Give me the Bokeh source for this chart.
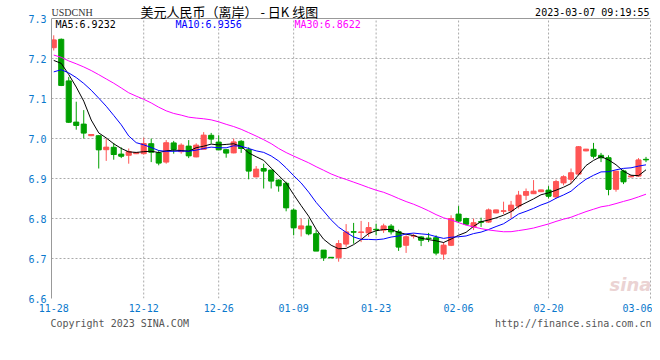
import numpy as np
from bokeh.plotting import figure
from bokeh.models import FixedTicker, Label, Span, ColumnDataSource, Range1d, LinearAxis
from bokeh.embed import file_html
from bokeh.resources import INLINE

# ---------------- data ----------------
tick_idx = [0, 12, 22, 32, 43, 54, 66, 78]
tick_labels = ["11-28", "12-12", "12-26", "01-09", "01-23", "02-06", "02-20", "03-06"]
y_ticks = [6.6, 6.7, 6.8, 6.9, 7.0, 7.1, 7.2, 7.3]

opens = [7.227, 7.248, 7.144, 7.041, 7.036, 7.007, 7.007, 6.972, 6.978, 6.961,
         6.958, 6.962, 6.962, 6.987, 6.964, 6.941, 6.989, 6.967, 6.981, 6.954,
         6.973, 7.008, 6.991, 6.972, 6.964, 6.993, 6.972, 6.904, 6.925, 6.921,
         6.896, 6.888, 6.821, 6.774, 6.781, 6.762, 6.721, 6.703, 6.702, 6.736,
         6.767, 6.765, 6.764, 6.773, 6.771, 6.781, 6.767, 6.733, 6.756, 6.754,
         6.751, 6.752, 6.711, 6.733, 6.811, 6.800, 6.779, 6.792, 6.791, 6.814,
         6.818, 6.819, 6.831, 6.858, 6.862, 6.867, 6.871, 6.854, 6.889, 6.898,
         6.911, 6.969, 6.973, 6.958, 6.952, 6.873, 6.919, 6.904, 6.906, 6.948]
highs = [7.258, 7.250, 7.154, 7.092, 7.071, 7.011, 7.008, 7.000, 6.989, 6.978,
         6.975, 6.966, 7.002, 7.000, 6.971, 6.996, 6.994, 6.988, 6.996, 6.988,
         7.016, 7.014, 7.008, 6.973, 7.000, 6.996, 6.978, 6.931, 6.937, 6.922,
         6.898, 6.892, 6.825, 6.800, 6.798, 6.771, 6.721, 6.703, 6.746, 6.786,
         6.789, 6.794, 6.791, 6.787, 6.787, 6.786, 6.772, 6.758, 6.762, 6.756,
         6.764, 6.758, 6.741, 6.808, 6.831, 6.802, 6.800, 6.802, 6.825, 6.822,
         6.842, 6.844, 6.869, 6.875, 6.896, 6.872, 6.881, 6.897, 6.908, 6.925,
         6.981, 6.974, 6.989, 6.964, 6.958, 6.918, 6.922, 6.907, 6.951, 6.954]
lows = [7.220, 7.131, 7.039, 7.022, 7.000, 7.006, 6.925, 6.944, 6.947, 6.951,
        6.937, 6.961, 6.960, 6.941, 6.933, 6.937, 6.962, 6.962, 6.951, 6.953,
        6.972, 6.987, 6.971, 6.952, 6.963, 6.964, 6.898, 6.903, 6.875, 6.875,
        6.867, 6.818, 6.758, 6.755, 6.758, 6.719, 6.694, 6.701, 6.692, 6.729,
        6.737, 6.741, 6.754, 6.758, 6.764, 6.760, 6.719, 6.714, 6.750, 6.731,
        6.741, 6.708, 6.697, 6.731, 6.789, 6.783, 6.771, 6.779, 6.789, 6.813,
        6.811, 6.800, 6.825, 6.846, 6.861, 6.866, 6.850, 6.850, 6.883, 6.887,
        6.908, 6.968, 6.950, 6.941, 6.858, 6.867, 6.886, 6.903, 6.905, 6.941]
closes = [7.246, 7.133, 7.041, 7.033, 7.014, 7.010, 6.972, 6.978, 6.960, 6.956,
          6.967, 6.965, 6.987, 6.966, 6.939, 6.989, 6.973, 6.983, 6.957, 6.983,
          7.008, 6.999, 6.972, 6.964, 6.991, 6.975, 6.919, 6.923, 6.919, 6.894,
          6.882, 6.827, 6.777, 6.781, 6.762, 6.719, 6.702, 6.702, 6.737, 6.766,
          6.766, 6.766, 6.777, 6.772, 6.781, 6.767, 6.729, 6.754, 6.757, 6.746,
          6.750, 6.714, 6.733, 6.800, 6.794, 6.786, 6.789, 6.791, 6.821, 6.821,
          6.819, 6.833, 6.858, 6.867, 6.868, 6.871, 6.856, 6.892, 6.904, 6.914,
          6.979, 6.973, 6.956, 6.952, 6.873, 6.918, 6.892, 6.906, 6.946, 6.947]
# closes before the first visible day (estimated so the MA lines start where the picture shows)
prior_closes = [7.30, 7.31, 7.25, 7.25, 7.28, 7.28, 7.30, 7.28, 7.31, 7.33,
                7.22, 7.22, 7.24, 7.26, 7.26, 7.17, 7.11, 7.11, 7.05, 7.06,
                7.08, 7.12, 7.15, 7.16, 7.18, 7.17, 7.18, 7.19, 7.19]

ma_texts = ["MA5:6.9232", "MA10:6.9356", "MA30:6.8622"]
footer_texts = ["Copyright 2023 SINA.COM", "http://finance.sina.com.cn"]

# ---------------- styles ----------------
RED = "#FF5555"
GREEN = "#00A000"
GRID = "#AAAAAA"
FRAME = "#999999"
BLUE_TXT = "#0A78CC"
MONO = "DejaVu Sans Mono"

o = np.array(opens); h = np.array(highs); l = np.array(lows); c = np.array(closes)
n = len(c)
x = np.arange(n)
allc = np.array(prior_closes + closes)
off = len(prior_closes)


def ma(k):
    return [allc[off + i - k + 1: off + i + 1].mean() for i in range(n)]


half = 0.34
src = ColumnDataSource(dict(
    x=x, xl=x - half, xr=x + half, h=h, l=l, c=c,
    top=np.maximum(o, c), bottom=np.minimum(o, c),
    color=np.where(c >= o, RED, GREEN),
))

# frame reaches the top of the canvas so the header texts sit inside it
Y0, Y1 = y_ticks[0], y_ticks[-1]
PX_PER_UNIT = 400.0          # 0.1 per 40 px
HEADER_PX = 18
p = figure(width=652, height=340, output_backend="svg", toolbar_location=None,
           x_range=Range1d(-0.3, n - 0.4),
           y_range=Range1d(Y0, Y1 + HEADER_PX / PX_PER_UNIT),
           min_border_left=51, min_border_right=2, min_border_top=0, min_border_bottom=42,
           background_fill_color="white", border_fill_color="white")
p.outline_line_color = None

# horizontal grid
p.ygrid.ticker = FixedTicker(ticks=y_ticks)
p.ygrid.grid_line_color = GRID
p.ygrid.grid_line_dash = "2 2"
p.xgrid.visible = False
# vertical grid lines, only inside the price area
vg = tick_idx[1:-1]
p.segment(x0=vg, y0=[Y0] * len(vg), x1=vg, y1=[Y1] * len(vg),
          line_color=GRID, line_dash="2 2", line_width=1)

# axes
yax = p.yaxis[0]
yax.ticker = FixedTicker(ticks=y_ticks)
yax.major_label_overrides = {t: f"{t:.1f}" for t in y_ticks}
yax.bounds = (Y0, Y1)
yax.axis_line_color = FRAME
yax.major_label_standoff = 5

xax = p.xaxis[0]
xax.ticker = FixedTicker(ticks=tick_idx)
xax.major_label_overrides = dict(zip(tick_idx, tick_labels))
xax.axis_line_color = None
xax.major_label_standoff = 5

for ax in (xax, yax):
    ax.major_tick_line_color = None
    ax.minor_tick_line_color = None
    ax.major_tick_out = 0
    ax.major_tick_in = 0
    ax.major_label_text_font = MONO
    ax.major_label_text_font_size = "10px"
    ax.major_label_text_color = BLUE_TXT

# right border: dotted, bottom border: the dotted 6.6 grid line, top border: solid
rax = LinearAxis(ticker=FixedTicker(ticks=[]), bounds=(Y0, Y1), axis_line_color=GRID,
                 axis_line_dash="2 2", major_tick_out=0, major_tick_in=0,
                 minor_tick_out=0, minor_tick_in=0, major_label_standoff=0,
                 major_label_text_font_size="0px")
p.add_layout(rax, "right")
p.add_layout(Span(location=Y1, dimension="width", line_color=FRAME, line_width=1))

# footer row as a second bottom axis in page-pixel units
p.extra_x_ranges = {"foot": Range1d(51, 650)}
fax = LinearAxis(x_range_name="foot", ticker=FixedTicker(ticks=[119.2, 572.7]),
                 major_label_overrides={119.2: footer_texts[0], 572.7: footer_texts[1]},
                 axis_line_color=None, major_tick_line_color=None, minor_tick_line_color=None,
                 major_tick_out=0, major_tick_in=0, major_label_standoff=3,
                 major_label_text_font=MONO, major_label_text_font_size="10px",
                 major_label_text_color="#555555")
p.add_layout(fax, "below")

# candles
p.segment(x0="x", y0="h", x1="x", y1="l", line_color="color", line_width=1, source=src)
p.vbar(x="x", width=2 * half, top="top", bottom="bottom", fill_color="color",
       line_color="color", line_width=1, source=src)
p.segment(x0="xl", y0="c", x1="xr", y1="c", line_color="color", line_width=1, source=src)

# moving averages
p.line(x, ma(5), line_color="black", line_width=1)
p.line(x, ma(10), line_color="#0000FF", line_width=1)
p.line(x, ma(30), line_color="#FF00FF", line_width=1)

# ---------------- texts (page pixel positions -> frame-relative screen units) ----------------
FL, FB = 51, 298


def lab(text, X, Y, color="black", size="10px", font=MONO, align="left", style="normal"):
    p.add_layout(Label(x=X - FL, y=FB - Y, x_units="screen", y_units="screen", text=text,
                       text_color=color, text_font_size=size, text_font=font,
                       text_align=align, text_baseline="middle", text_font_style=style))


lab("sina", 630, 284, color="#EBD3D3", size="18px", font="DejaVu Sans", align="center", style="bold italic")
lab("USDCNH", 51, 12, color="#333333", size="10px", font="Liberation Serif")
lab("美元人民币（离岸） - 日K 线图", 140, 11, size="13px", font="Noto Sans CJK SC")
lab("2023-03-07 09:19:55", 649, 12, align="right")
lab(ma_texts[0], 55, 24)
lab(ma_texts[1], 175, 24, color="#0000FF")
lab(ma_texts[2], 294, 24, color="#FF00FF")

open("out.html", "w").write(file_html(p, INLINE))
